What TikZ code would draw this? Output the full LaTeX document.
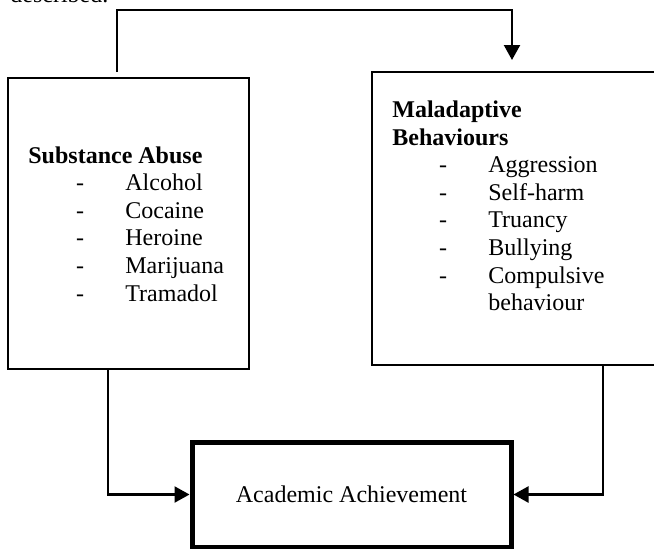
\documentclass[tikz,border=0pt,12pt]{standalone}
\usepackage{fontspec}
\setmainfont{Liberation Serif}
\usetikzlibrary{arrows.meta}

\begin{document}
\begin{tikzpicture}[x=0.5pt, y=-0.5pt]
		\def\px{0.5pt}

		\tikzset{
			box/.style={draw, line width=1.3pt, inner sep=0pt, outer sep=0pt},
			txt/.style={anchor=base west, inner sep=0pt},
			hy/.style={anchor=base, inner sep=0pt},
			conn/.style={line width=1.1pt, -{Triangle[length=7.5pt, width=8pt]}}
		}

		\useasboundingbox (0,0) rectangle (654,548);

		% --- Last line of the text above, cut off ---
		\node[txt] (prev) at (10,2.5) {described.};

		% --- Boxes ---
		\node[box, anchor=north west, minimum width=241*\px, minimum height=291*\px] (sa) at (8,78) {};
		\node[box, anchor=north west, minimum width=286*\px, minimum height=293*\px] (mb) at (372,72) {};
		\node[box, line width=2.5pt, outer sep=1.25pt, minimum width=319*\px, minimum height=105*\px] (aa) at (351.5,494.5) {Academic Achievement};

		% --- Substance abuse ---
		\node[txt, font=\bfseries] (sahead) at (28,163) {Substance Abuse};
		\node[hy] (sad1) at (80,190.6) {-};
		\node[hy] (sad2) at (80,218.2) {-};
		\node[hy] (sad3) at (80,245.8) {-};
		\node[hy] (sad4) at (80,273.4) {-};
		\node[hy] (sad5) at (80,301) {-};
		\node[txt] (sa1) at (125,190.6) {Alcohol};
		\node[txt] (sa2) at (125,218.2) {Cocaine};
		\node[txt] (sa3) at (125,245.8) {Heroine};
		\node[txt] (sa4) at (125,273.4) {Marijuana};
		\node[txt] (sa5) at (125,301) {Tramadol};

		% --- Maladaptive behaviours ---
		\node[txt, font=\bfseries] (mbhead1) at (392,117.4) {Maladaptive};
		\node[txt, font=\bfseries] (mbhead2) at (392,145) {Behaviours};
		\node[hy] (mbd1) at (443,172.6) {-};
		\node[hy] (mbd2) at (443,200.2) {-};
		\node[hy] (mbd3) at (443,227.8) {-};
		\node[hy] (mbd4) at (443,255.4) {-};
		\node[hy] (mbd5) at (443,283) {-};
		\node[txt] (mb1) at (488,172.6) {Aggression};
		\node[txt] (mb2) at (488,200.2) {Self-harm};
		\node[txt] (mb3) at (488,227.8) {Truancy};
		\node[txt] (mb4) at (488,255.4) {Bullying};
		\node[txt] (mb5) at (488,283) {Compulsive};
		\node[txt] (mb5b) at (488,310.6) {behaviour};

		% --- Connectors ---
		\coordinate (satop) at ([shift={(-11.5,-6)}]sa.north);
		\coordinate (mbtop) at ([shift={(-3,-12)}]mb.north);
		\draw[conn] (satop) -- ++(0,-62) -| (mbtop);
		\draw[conn] ([shift={(-20.5,0)}]sa.south) |- (aa.west);
		\draw[conn] ([shift={(88,0)}]mb.south) |- (aa.east);
	\end{tikzpicture}
\end{document}
